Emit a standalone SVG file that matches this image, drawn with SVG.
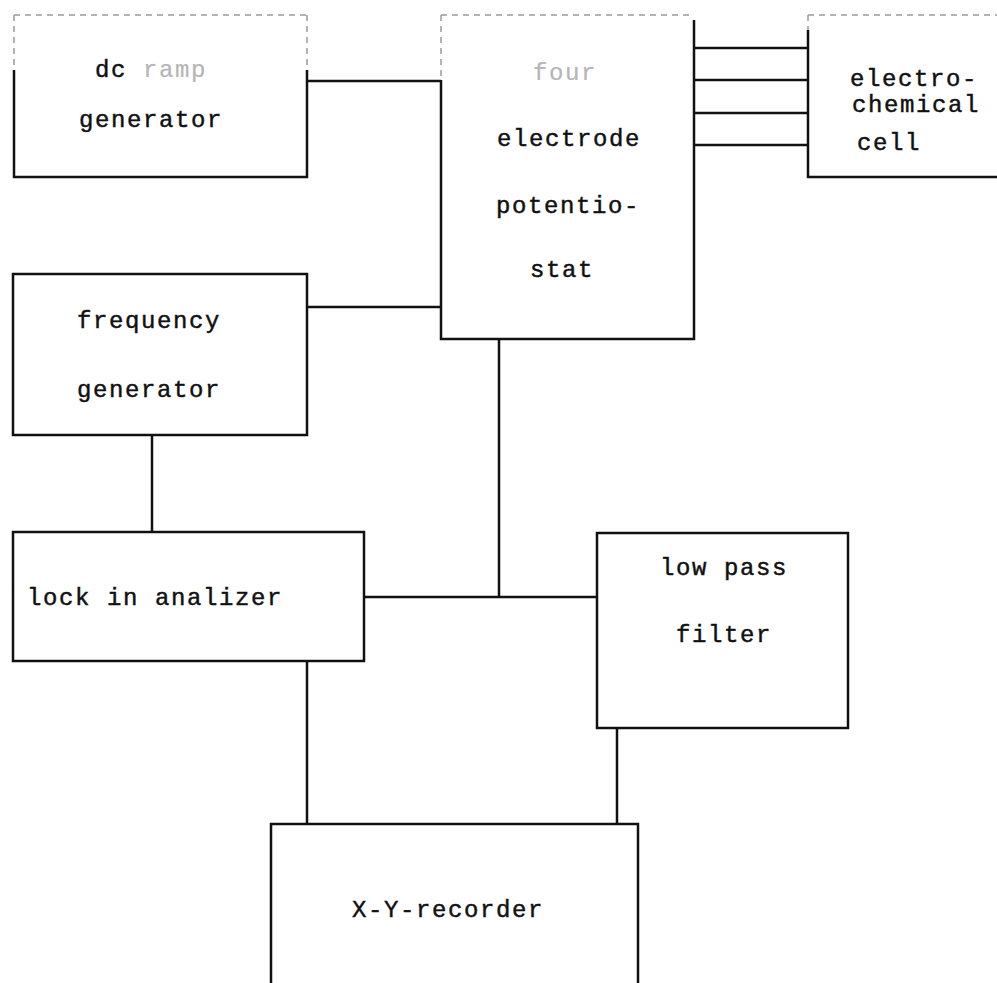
<svg xmlns="http://www.w3.org/2000/svg" width="997" height="983" viewBox="0 0 997 983">
<style>
.box{fill:none;stroke:#111;stroke-width:2.5;stroke-linejoin:miter}
.faint{fill:none;stroke:#9a9a9a;stroke-width:1.5;stroke-dasharray:6 5}
.wire{fill:none;stroke:#111;stroke-width:2.5}
.t{font-family:"Liberation Mono","DejaVu Sans Mono",monospace;font-size:24px;letter-spacing:1.6px;fill:#111;stroke:#111;stroke-width:0.45px}
.tf{fill:#b5b5b5;stroke:#b5b5b5;stroke-width:0.2px}
</style>
<rect width="997" height="983" fill="#fff"/>
<g id="dc-ramp-generator">
  <path class="faint" d="M14,15 H307 M14,15 V70 M307,15 V70"/>
  <path class="box" d="M14,70 V177 H307 V70"/>
  <text class="t" x="95" y="77">dc <tspan class="tf">ramp</tspan></text>
  <text class="t" x="79" y="127">generator</text>
</g>
<g id="potentiostat">
  <path class="faint" d="M441,15 H694 M441,15 V80"/>
  <path class="box" d="M441,80 V339 H694 V20"/>
  <text class="t tf" x="533" y="80">four</text>
  <text class="t" x="497" y="146">electrode</text>
  <text class="t" x="496" y="213">potentio-</text>
  <text class="t" x="530" y="277">stat</text>
</g>
<g id="electrochemical-cell">
  <path class="faint" d="M808,15 H997 M808,15 V30"/>
  <path class="box" d="M808,30 V177 H997"/>
  <text class="t" x="850" y="86">electro-</text>
  <text class="t" x="852" y="112">chemical</text>
  <text class="t" x="857" y="150">cell</text>
</g>
<g id="frequency-generator">
  <rect class="box" x="13" y="274" width="294" height="161"/>
  <text class="t" x="77" y="328">frequency</text>
  <text class="t" x="77" y="397">generator</text>
</g>
<g id="lock-in-analizer">
  <rect class="box" x="13" y="532" width="351" height="129"/>
  <text class="t" x="27" y="605">lock in analizer</text>
</g>
<g id="low-pass-filter">
  <rect class="box" x="597" y="533" width="251" height="195"/>
  <text class="t" x="660" y="575">low pass</text>
  <text class="t" x="676" y="642">filter</text>
</g>
<g id="xy-recorder">
  <path class="box" d="M271,990 V824 H638 V990"/>
  <text class="t" x="352" y="917">X-Y-recorder</text>
</g>
<g id="connectors">
  <path class="wire" d="M307,81 H441"/>
  <path class="wire" d="M694,48 H808 M694,80 H808 M694,113 H808 M694,145 H808"/>
  <path class="wire" d="M307,307 H441"/>
  <path class="wire" d="M152,435 V532"/>
  <path class="wire" d="M499,339 V597"/>
  <path class="wire" d="M364,597 H597"/>
  <path class="wire" d="M307,661 V824"/>
  <path class="wire" d="M617,728 V824"/>
</g>
</svg>
